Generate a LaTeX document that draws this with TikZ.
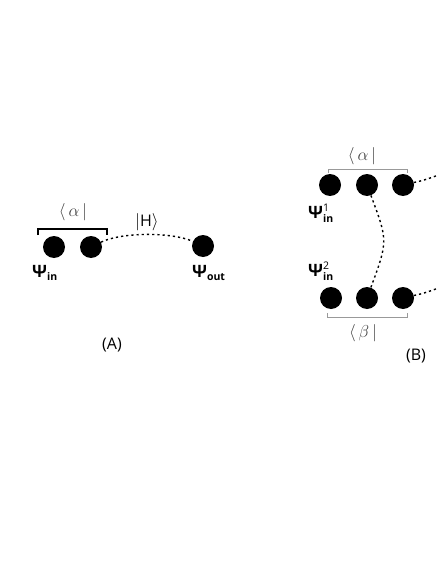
\documentclass[tikz,border=0pt]{standalone}
\usepackage{amsmath}
\usepackage{fontspec}
\setmainfont{Open Sans}
\usetikzlibrary{calc}
\tikzset{
  qdot/.style={circle,fill=black,inner sep=0pt,minimum size=22pt},
  dotline/.style={line width=1.4pt,dash pattern=on 2.2pt off 3pt},
  bracketA/.style={line width=1.2pt,black},
  bracketB/.style={line width=0.8pt,black!40},
  lbl/.style={inner sep=0pt,font=\fontsize{16}{18}\selectfont},
  psi/.style={inner sep=0pt,font=\fontsize{15}{17}\selectfont},
}
\newcommand{\PsiB}{\mbox{\bfseries\fontsize{17}{19}\selectfont Ψ}}
\begin{document}
\begin{tikzpicture}[x=1pt,y=-1pt]
\useasboundingbox (0,0) rectangle (436,564);
\clip (0,0) rectangle (436,564);
% ---------- (A)
\node[qdot] (a1) at (54,247) {};
\node[qdot] (a2) at (91,247) {};
\node[qdot] (a3) at (203,246) {};
\draw[dotline] (a2) .. controls (122,232) and (172,232) .. (a3);
\draw[bracketA] (38,235) -- (38,229) -- (107,229) -- (107,235);
\node[lbl,text=black!75] (alA) at (73,212) {$\langle\,\alpha\,|$};
\node[lbl] (H) at (147,222) {$|$H$\rangle$};
\node[psi,anchor=west] (pin) at (32,273) {$\PsiB_{\textbf{in}}$};
\node[psi,anchor=west] (pout) at (192,273) {$\PsiB_{\textbf{out}}$};
\node[lbl] (capA) at (112,345) {(A)};
% ---------- (B)
\node[qdot] (b1) at (330,185) {};
\node[qdot] (b2) at (367,185) {};
\node[qdot] (b3) at (403,185) {};
\node[qdot] (c1) at (331,298) {};
\node[qdot] (c2) at (367,298) {};
\node[qdot] (c3) at (403,298) {};
\coordinate (t1) at (452,170);
\coordinate (t2) at (452,283);
\draw[dotline] (b2) .. controls (388,241) .. (c2);
\draw[dotline] (b3) .. controls (425,180) .. (t1);
\draw[dotline] (c3) .. controls (425,293) .. (t2);
\draw[bracketB] (328,173) -- (328,169) -- (407,169) -- (407,173);
\draw[bracketB] (327,313) -- (327,317) -- (407,317) -- (407,313);
\node[lbl,text=black!75] (alB) at (362,156) {$\langle\,\alpha\,|$};
\node[lbl,text=black!75] (beB) at (363,333) {$\langle\,\beta\,|$};
\node[psi,anchor=west] (pin1) at (308,213) {$\PsiB_{\textbf{in}}^{\text{1}}$};
\node[psi,anchor=west] (pin2) at (308,271) {$\PsiB_{\textbf{in}}^{\text{2}}$};
\node[lbl] (capB) at (416,356) {(B)};
\end{tikzpicture}
\end{document}
